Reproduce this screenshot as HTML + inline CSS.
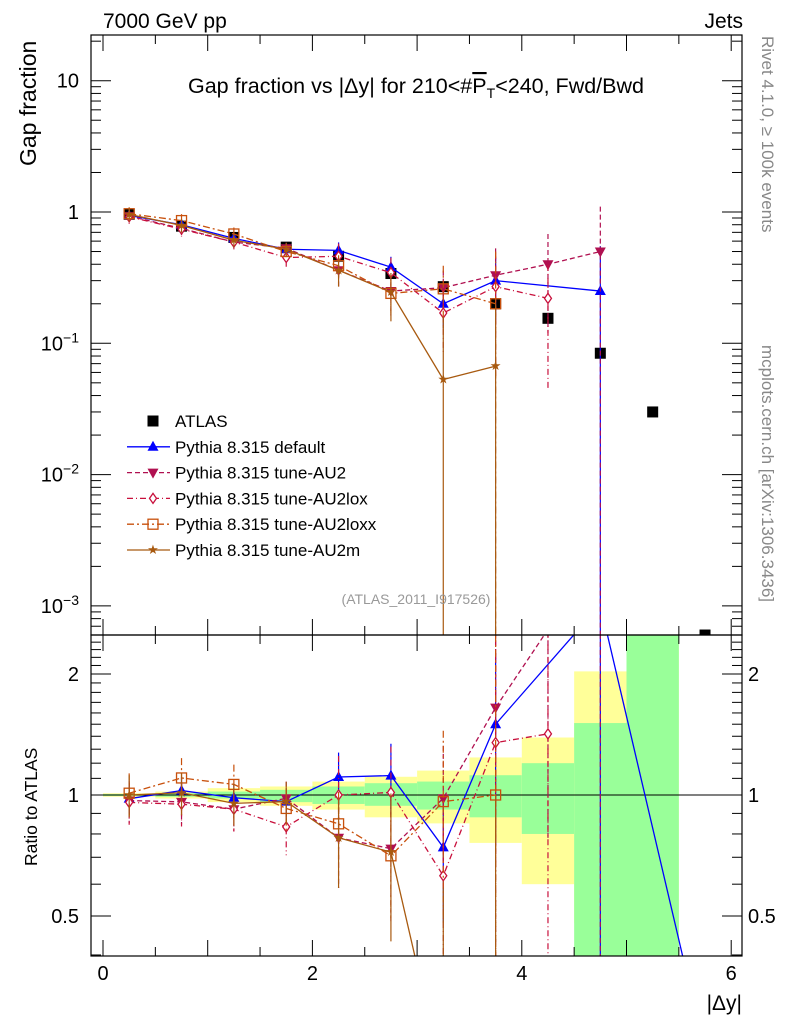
<!DOCTYPE html>
<html><head><meta charset="utf-8"><style>
html,body{margin:0;background:#fff;width:786px;height:1024px;overflow:hidden;}
svg{display:block;font-family:"Liberation Sans",sans-serif;}
</style></head><body>
<svg id="c" width="786" height="1024" viewBox="0 0 786 1024" xmlns="http://www.w3.org/2000/svg">
<defs>
<clipPath id="cm"><rect x="91" y="35" width="651" height="600"/></clipPath>
<clipPath id="cr"><rect x="91" y="635" width="651" height="321"/></clipPath>
</defs>
<g id="bands" clip-path="url(#cr)"></g>
<g id="gm" clip-path="url(#cm)"></g>
<g id="gr" clip-path="url(#cr)"></g>
<g id="axes"></g>
<text x="103" y="28" font-size="21">7000 GeV pp</text>
<text x="743" y="28" font-size="21" text-anchor="end">Jets</text>
<text x="416" y="93" font-size="21.5" text-anchor="middle">Gap fraction vs |Δy| for 210&lt;#<tspan text-decoration="overline">P</tspan><tspan font-size="14" dy="5">T</tspan><tspan dy="-5">&lt;240, Fwd/Bwd</tspan></text>
<text transform="translate(36,166) rotate(-90)" font-size="23">Gap fraction</text>
<text transform="translate(37,866) rotate(-90)" font-size="17.5">Ratio to ATLAS</text>
<text transform="translate(762,36) rotate(90)" font-size="17" fill="#888">Rivet 4.1.0, ≥ 100k events</text>
<text transform="translate(762,345) rotate(90)" font-size="17" fill="#888">mcplots.cern.ch [arXiv:1306.3436]</text>
<text x="416" y="604" font-size="14" fill="#999" text-anchor="middle">(ATLAS_2011_I917526)</text>
<text x="742" y="1010" font-size="21" text-anchor="end">|Δy|</text>
<g id="legend"></g>
</svg>
<script>
const xCenters=[0.25,0.75,1.25,1.75,2.25,2.75,3.25,3.75,4.25,4.75,5.25,5.75];
const atlasVals=[0.96,0.78,0.64,0.54,0.46,0.34,0.27,0.20,0.155,0.084,0.030,0.0006];
const atlasErr=[0.02,0.02,0.02,0.03,0.03,0.03,0.03,0.02,0.01,0.005,0.002,0.00005];
const defVals=[0.94,0.80,0.63,0.52,0.51,0.38,0.20,0.30,null,0.25];
const au2Vals=[0.93,0.75,0.59,0.53,0.36,0.25,0.265,0.33,0.40,0.50];
const loxVals=[0.92,0.74,0.59,0.45,0.46,0.345,0.17,0.27,0.22];
const loxxVals=[0.97,0.86,0.68,0.50,0.39,0.24,0.26,0.20];
const au2mVals=[0.96,0.79,0.61,0.52,0.36,0.245,0.053,0.067];
const defRel=[0.08,0.08,0.08,0.08,0.15,0.2,0.35,0.5,0,1.2];
const au2Rel=[0.12,0.12,0.12,0.1,0.25,0.35,0.35,0.6,0.7,1.2];
const loxRel=[0.12,0.12,0.12,0.15,0.25,0.3,0.5,0.8,0.8];
const loxxRel=[0.12,0.12,0.12,0.12,0.2,0.3,0.5,1.5];
const au2mRel=[0.12,0.12,0.12,0.12,0.25,0.4,2,2];
const defRatioTail=[5.75,0.23];
const bandYelLo=[0.99,0.98,0.96,0.94,0.92,0.88,0.85,0.76,0.60,0.48,0.3];
const bandYelHi=[1.01,1.02,1.04,1.05,1.08,1.11,1.15,1.24,1.39,2.03,3];
const bandGrnLo=[0.995,0.99,0.98,0.96,0.95,0.94,0.92,0.88,0.80,0.3,0.3];
const bandGrnHi=[1.005,1.01,1.02,1.03,1.05,1.07,1.08,1.12,1.2,1.51,3];
const xTickLabels=[0,2,4,6];
const yTickExps=[1,0,-1,-2,-3];
const ratioTickLabels=[0.5,1,2];

const NS="http://www.w3.org/2000/svg";
const XR=742;
const X=v=>103+v*104.7;
const Y=v=>212-131.3*Math.log10(v);
const R=v=>795-402*Math.log10(v);
function mk(tag,attrs,parent){const e=document.createElementNS(NS,tag);for(const k in attrs)e.setAttribute(k,attrs[k]);parent.appendChild(e);return e;}
const gm=document.getElementById('gm'),gr=document.getElementById('gr'),bands=document.getElementById('bands'),axes=document.getElementById('axes'),legend=document.getElementById('legend');

for(let i=0;i<bandYelLo.length;i++){
  const x0=X(xCenters[i]-0.25),w=X(0.5)-X(0);
  const y1=mk('rect',{x:x0,y:R(bandYelHi[i]),width:w,height:R(bandYelLo[i])-R(bandYelHi[i]),fill:'#ffff99'},bands);
  
  
  const g1=mk('rect',{x:x0,y:R(bandGrnHi[i]),width:w,height:R(bandGrnLo[i])-R(bandGrnHi[i]),fill:'#99ff99'},bands);
  
  
}
const one=mk('line',{x1:91,x2:XR,y1:R(1),y2:R(1),stroke:'#000','stroke-width':1},gr);



function marker(g,type,x,y,col){
  let e;
  if(type==='tu')e=mk('polygon',{points:`${x},${y-6} ${x-5.5},${y+4} ${x+5.5},${y+4}`,fill:col},g);
  else if(type==='td')e=mk('polygon',{points:`${x},${y+6} ${x-5.5},${y-4} ${x+5.5},${y-4}`,fill:col},g);
  else if(type==='dia')e=mk('polygon',{points:`${x},${y-5} ${x-3.5},${y} ${x},${y+5} ${x+3.5},${y}`,fill:'#fff',stroke:col,'stroke-width':1.3},g);
  else if(type==='sq')e=mk('rect',{x:x-5,y:y-5,width:10,height:10,fill:'none',stroke:col,'stroke-width':1.3},g);
  else if(type==='star')e=mk('text',{x:x,y:y+4,'font-size':13,'text-anchor':'middle',fill:col},g),e.textContent='★';
  else if(type==='bsq')e=mk('rect',{x:x-5.5,y:y-5.5,width:11,height:11,fill:'#000'},g);
  return e;
}
const series=[
 {name:'default',vals:defVals,rel:defRel,col:'#0000ff',dash:'',m:'tu',label:'Pythia 8.315 default'},
 {name:'au2',vals:au2Vals,rel:au2Rel,col:'#b01050',dash:'5,3',m:'td',label:'Pythia 8.315 tune-AU2'},
 {name:'au2lox',vals:loxVals,rel:loxRel,col:'#c8103c',dash:'6,3,1,3',m:'dia',label:'Pythia 8.315 tune-AU2lox'},
 {name:'au2loxx',vals:loxxVals,rel:loxxRel,col:'#c8500c',dash:'7,3,2,3',m:'sq',label:'Pythia 8.315 tune-AU2loxx'},
 {name:'au2m',vals:au2mVals,rel:au2mRel,col:'#a85a10',dash:'',m:'star',label:'Pythia 8.315 tune-AU2m'}
];
atlasVals.forEach((v,i)=>{
  const x=X(xCenters[i]);
  const eb=mk('line',{x1:x,x2:x,y1:Y(v+atlasErr[i]),y2:Y(Math.max(v-atlasErr[i],1e-6)),stroke:'#000'},gm);
  
  
  const p=marker(gm,'bsq',x,Y(v),'#000');
  
  
});
series.forEach(s=>{
  [['main',gm,Y,(v,i)=>v],['ratio',gr,R,(v,i)=>v/atlasVals[i]]].forEach(([pn,g,F,tr])=>{
    let pts=[];
    s.vals.forEach((v,i)=>{if(v!=null)pts.push([X(xCenters[i]),F(tr(v,i)),i,v]);});
    let d=pts.map((p,k)=>(k?'L':'M')+p[0]+','+p[1]).join(' ');
    if(pn==='ratio'&&s.name==='default')d+=' L'+X(defRatioTail[0])+','+R(defRatioTail[1]);
    const ln=mk('path',{d:d,fill:'none',stroke:s.col,'stroke-width':1.3,'stroke-dasharray':s.dash},g);
    
    
    pts.forEach(p=>{
      const i=p[2],v=p[3],r=s.rel[i];
      const hi=tr(v*(1+r),i),lo=tr(Math.max(v*(1-r),v*1e-4),i);
      const eb=mk('line',{x1:p[0],x2:p[0],y1:F(hi),y2:F(lo),stroke:s.col,'stroke-width':1.2,'stroke-dasharray':s.dash},g);
      
      
      const m=marker(g,s.m,p[0],p[1],s.col);
      
      
    });
  });
});
const f1=mk('rect',{x:91,y:35,width:XR-91,height:600,fill:'none',stroke:'#000','stroke-width':1.2},axes);


const f2=mk('rect',{x:91,y:635,width:XR-91,height:321,fill:'none',stroke:'#000','stroke-width':1.2},axes);


for(let k=0;k<=12;k++){
  const v=k*0.5,x=X(v);if(x>XR)break;
  const L=(k%2===0)?16:9;
  [[35,35+L],[635-L,635],[635,635+L],[956-L,956]].forEach(([a,b])=>{
    const t=mk('line',{x1:x,x2:x,y1:a,y2:b,stroke:'#000'},axes);
    
    
  });
}
xTickLabels.forEach(v=>{
  const t=mk('text',{x:X(v),y:980,'font-size':20,'text-anchor':'middle'},axes);
  t.textContent=v;
  
  
});
for(let e=-4;e<=1;e++){
  for(let m=1;m<10;m++){
    const v=m*Math.pow(10,e),y=Y(v);
    if(y<35||y>635)continue;
    const L=m===1?20:10;
    [[91,91+L],[XR-L,XR]].forEach(([a,b])=>{
      const t=mk('line',{x1:a,x2:b,y1:y,y2:y,stroke:'#000'},axes);
      
      
    });
  }
}
yTickExps.forEach(e=>{
  const y=Y(Math.pow(10,e));
  const t=mk('text',{x:79,y:y+7,'font-size':20,'text-anchor':'end'},axes);
  if(e===1)t.textContent='10';else if(e===0)t.textContent='1';
  else{t.textContent='10';const s=mk('tspan',{'font-size':14,dy:-8},t);s.textContent='−'+(-e);}
  
  
});
for(let v=0.4;v<=2.5;v+=0.1){
  const y=R(v);if(y<635||y>956)continue;
  const major=Math.abs(v-0.5)<1e-6||Math.abs(v-1)<1e-6||Math.abs(v-2)<1e-6;
  const L=major?20:10;
  [[91,91+L],[XR-L,XR]].forEach(([a,b])=>{
    const t=mk('line',{x1:a,x2:b,y1:y,y2:y,stroke:'#000'},axes);
    
    
  });
}
ratioTickLabels.forEach(v=>{
  [[79,'end'],[748,'start']].forEach(([x,a])=>{
    const t=mk('text',{x:x,y:R(v)+7,'font-size':20,'text-anchor':a},axes);
    t.textContent=v;
    
    
  });
});
const ly0=421,ldy=25.8;
const lr=mk('g',{},legend);
const la=marker(lr,'bsq',153,ly0,'#000');


const lt=mk('text',{x:175,y:ly0+6,'font-size':17},lr);lt.textContent='ATLAS';


series.forEach((s,k)=>{
  const y=ly0+ldy*(k+1);
  const l=mk('line',{x1:127,x2:170,y1:y,y2:y,stroke:s.col,'stroke-width':1.3,'stroke-dasharray':s.dash},legend);
  
  
  const m=marker(legend,s.m,153,y,s.col);
  
  
  const t=mk('text',{x:175,y:y+6,'font-size':17},legend);t.textContent=s.label;
  
  
});
</script>
</body></html>
